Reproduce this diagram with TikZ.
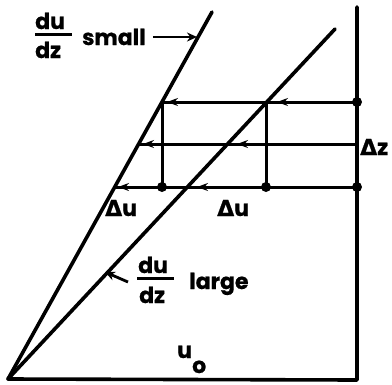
\documentclass[tikz,border=0pt]{standalone}
\usepackage{fontspec}
\setmainfont{Poppins}[BoldFeatures={FakeBold=0.8}]
\newfontfamily\dvfont{DejaVu Sans}[BoldFeatures={FakeBold=0.8}]
\usetikzlibrary{arrows.meta}
\begin{document}
\begin{tikzpicture}[x=1pt,y=-1pt,
  mainline/.style={line width=3.6pt, line cap=round, line join=round},
  gridline/.style={line width=3pt},
  lab/.style={font=\fontsize{22}{22}\selectfont\bfseries, inner sep=0pt, anchor=base west},
  marker/.style={-{Stealth[length=11pt,width=8pt]}, line width=2.5pt},
  pointer/.style={-{Stealth[length=10pt,width=9pt]}, line width=2.8pt},
  dot/.style={circle, fill, inner sep=0pt, minimum size=10pt}]
\useasboundingbox (0,0) rectangle (392,384);
% frame and lines
\coordinate (O) at (8,379);
\coordinate (S) at (212,12);
\coordinate (L) at (335,29);
\coordinate (RT) at (357,7);
\coordinate (RB) at (357,380);
\draw[mainline] (RT) -- (RB) -- (O) -- (S);
\draw[mainline] (O) -- (L);
% horizontal levels
\coordinate (T1) at (162,102); \coordinate (T2) at (266,102); \coordinate (T3) at (357,102);
\coordinate (M1) at (139,144); \coordinate (M3) at (357,144);
\coordinate (B1) at (115,187); \coordinate (B2) at (162,187); \coordinate (B4) at (266,187); \coordinate (B3) at (357,187);
\draw[gridline] (T1) -- (T3);
\draw[gridline] (M1) -- (M3);
\draw[gridline] (B1) -- (B3);
\draw[gridline] (T1) -- (B2);
\draw[gridline] (T2) -- (B4);
% dots
\node[dot] at (T3) {};
\node[dot] at (B3) {};
\node[dot] at (B2) {};
\node[dot] at (B4) {};
% direction markers
\draw[marker] (179,102) -- (167,102);
\draw[marker] (289,102) -- (277,102);
\draw[marker] (155,144) -- (143,144);
\draw[marker] (249,144) -- (237,144);
\draw[marker] (130,187) -- (118,187);
\draw[marker] (209,187) -- (197,187);
% labels top
\node[lab] (du1) at (35,29) {du};
\node[lab] (dz1) at (35,58) {dz};
\draw[line width=3pt] (35,34) -- (72,34);
\node[lab] (small) at (82,45) {small};
\coordinate (sp) at (197,37);
\draw[pointer] (small.east |- 0,37) ++(7,0) -- (sp);
% delta labels
\node[lab] (dz) at (360,155) {{\dvfont Δ}z};
\node[lab] (du2) at (105,216) {{\dvfont Δ}u};
\node[lab] (du3) at (217,216) {{\dvfont Δ}u};
% large label
\node[lab] (du4) at (138,273) {du};
\node[lab] (dz4) at (139,303) {dz};
\draw[line width=3pt] (137,278) -- (174,278);
\node[lab] (large) at (189,289) {large};
\coordinate (lp) at (105,272);
\draw[pointer] (128,282) -- (lp);
% u0
\node[lab] (u) at (177,358) {u};
\node[lab] (o) at (192,373) {o};
\end{tikzpicture}
\end{document}
